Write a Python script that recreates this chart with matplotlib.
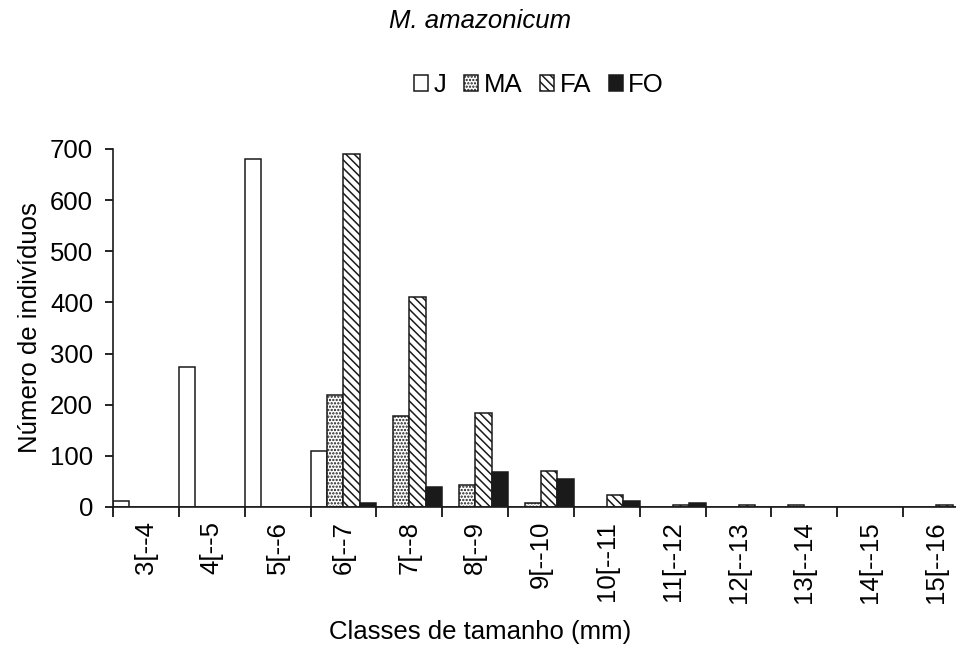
import numpy as np
import matplotlib
matplotlib.use("Agg")
import matplotlib.pyplot as plt

plt.rcParams["font.family"] = ["Liberation Sans", "DejaVu Sans"]
plt.rcParams["hatch.linewidth"] = 1.1

classes = ["3[--4", "4[--5", "5[--6", "6[--7", "7[--8", "8[--9", "9[--10",
           "10[--11", "11[--12", "12[--13", "13[--14", "14[--15", "15[--16"]

# individuals per size class for each demographic group
juv = [12, 273, 680, 109, 0, 0, 0, 0, 0, 0, 0, 0, 0]
ma = [0, 0, 0, 219, 177, 43, 8, 0, 0, 0, 4, 0, 0]
fa = [0, 0, 0, 690, 411, 183, 71, 23, 4, 4, 0, 0, 4]
fo = [0, 0, 0, 8, 40, 68, 55, 12, 8, 0, 0, 0, 0]

groups = ["J", "MA", "FA", "FO"]
series = [juv, ma, fa, fo]
styles = [dict(color="white", hatch=None),
          dict(color="white", hatch="....."),
          dict(color="white", hatch="\\\\\\\\"),
          dict(color="#1a1a1a", hatch=None)]

FS = 18.5

fig = plt.figure(figsize=(9.56, 6.5), dpi=100)
ax = fig.add_axes([113 / 956, 143 / 650, 856 / 956, 358 / 650])

x = np.arange(len(classes))
w = 0.25
for i, (name, vals, st) in enumerate(zip(groups, series, styles)):
    ax.bar(x + (i - 1.5) * w, vals, width=w, facecolor=st["color"],
           edgecolor="#1a1a1a", linewidth=1.1, hatch=st["hatch"], label=name)

ax.set_xlim(-0.5, len(classes) - 0.5)
ax.set_ylim(0, 700)
ax.set_yticks(np.arange(0, 701, 100))
ax.set_xticks(np.arange(-0.5, len(classes), 1))
ax.set_xticklabels([])
ax.set_xticks(x, minor=True)
ax.set_xticklabels(classes, minor=True, rotation=90, fontsize=FS)
ax.tick_params(axis="x", which="major", length=7, width=1.2, direction="out")
ax.tick_params(axis="x", which="minor", length=0, pad=10)
ax.tick_params(axis="y", length=5.8, width=1.2, labelsize=FS, pad=8.5)

for side in ["top", "right"]:
    ax.spines[side].set_visible(False)
for side in ["left", "bottom"]:
    ax.spines[side].set_linewidth(1.2)
    ax.spines[side].set_color("#1a1a1a")

ax.set_ylabel("Número de indivíduos", fontsize=FS, labelpad=6)
fig.text(0.502, 0.028, "Classes de tamanho (mm)", fontsize=FS,
         ha="center", va="center")
fig.text(0.502, 0.968, "M. amazonicum", fontsize=FS, style="italic",
         ha="center", va="center")

fig.legend(loc="center", bbox_to_anchor=(0.564, 0.869), ncol=4, frameon=False,
           fontsize=FS, handlelength=0.55, handleheight=0.55,
           handletextpad=0.2, columnspacing=0.7)

fig.savefig("out.png", dpi=100)
